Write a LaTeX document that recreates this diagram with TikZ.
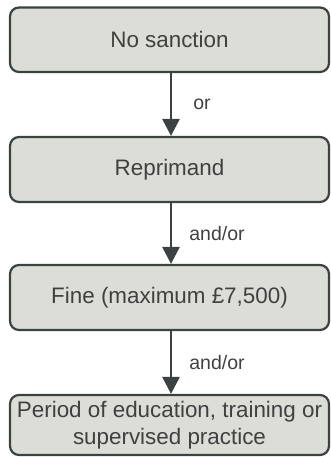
\documentclass[tikz,border=0pt]{standalone}
\usepackage{fontspec}
\setmainfont{Liberation Sans}
\usetikzlibrary{arrows.meta}
\definecolor{boxfill}{HTML}{DCDDD7}
\definecolor{boxline}{HTML}{3A4242}
\definecolor{txt}{HTML}{404040}
\tikzset{
  stepbox/.style={draw=boxline, line width=2.2pt, fill=boxfill, rounded corners=9pt,
    text=txt, font=\fontsize{22.4}{27}\selectfont, align=center, inner sep=0pt},
  conn/.style={draw=boxline, line width=2.8pt, -{Triangle[length=17pt,width=17pt]}},
  lbl/.style={text=txt, font=\fontsize{19.5}{23}\selectfont, anchor=west, inner sep=0pt}
}
\begin{document}
\begin{tikzpicture}[x=1pt,y=-1pt]
\useasboundingbox (0,0) rectangle (330,457);
\node[stepbox, minimum width=319pt, minimum height=64.5pt] (a) at (169.5,39.75) {No sanction};
\node[stepbox, minimum width=319pt, minimum height=65pt] (b) at (169.5,169.5) {Reprimand};
\node[stepbox, minimum width=319pt, minimum height=65pt] (c) at (169.5,297.5) {Fine (maximum £7,500)};
\node[stepbox, minimum width=319pt, minimum height=60pt] (d) at (169.5,425) {Period of education, training or\\supervised practice};
\draw[conn] (a.south -| 171,0) -- (b.north -| 171,0) node[lbl, midway, xshift=21pt] {or};
\draw[conn] (b.south -| 171,0) -- (c.north -| 171,0) node[lbl, midway, xshift=17pt] {and/or};
\draw[conn] (c.south -| 171,0) -- (d.north -| 171,0) node[lbl, midway, xshift=17pt] {and/or};
\end{tikzpicture}
\end{document}
